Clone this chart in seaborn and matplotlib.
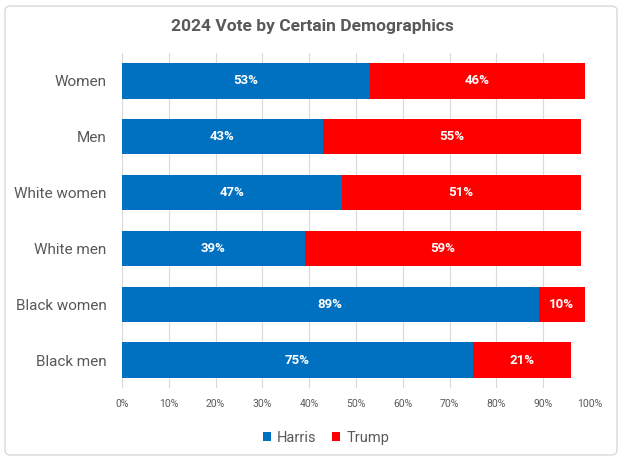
import matplotlib
matplotlib.use("Agg")
import matplotlib.pyplot as plt
import seaborn as sns
import pandas as pd
import numpy as np
from matplotlib.patches import FancyBboxPatch

categories = ["Women", "Men", "White women", "White men", "Black women", "Black men"]
harris = [53, 43, 47, 39, 89, 75]
trump = [46, 55, 51, 59, 10, 21]
series = ["Harris", "Trump"]
colors = ["#0070C0", "#FF0000"]
tick_labels = ["0%", "10%", "20%", "30%", "40%", "50%", "60%", "70%", "80%", "90%", "100%"]

sns.set_theme(style="white")
fam = ["Roboto", "DejaVu Sans"]
plt.rcParams['font.family'] = fam

fig = plt.figure(figsize=(6.24, 4.61), dpi=100)
ax = fig.add_axes([122/624, 1 - 388/461, (590-122)/624, (388-53)/461])

df = pd.DataFrame({"cat": categories, "Harris": harris, "Trump": trump})
df["Total"] = df["Harris"] + df["Trump"]

sns.barplot(data=df, y="cat", x="Total", color=colors[1], width=0.63, ax=ax, orient="h",
            saturation=1, label="Trump", linewidth=0)
sns.barplot(data=df, y="cat", x="Harris", color=colors[0], width=0.63, ax=ax, orient="h",
            saturation=1, label="Harris", linewidth=0)

bars = ax.patches
n = len(categories)
harris_bars = bars[n:]
for i in range(n):
    hb = harris_bars[i]
    cy = hb.get_y() + hb.get_height() / 2
    ax.text(harris[i] / 2, cy, f"{harris[i]}%", ha="center", va="center",
            color="white", fontweight="bold", fontsize=9.5)
    ax.text(harris[i] + trump[i] / 2, cy, f"{trump[i]}%", ha="center", va="center",
            color="white", fontweight="bold", fontsize=9.5)

ax.set_xlim(0, 100)
ax.set_xticks(np.arange(0, 101, 10))
ax.set_xticklabels(tick_labels, fontsize=7.5, color="#595959")
ax.tick_params(axis="y", labelsize=11, labelcolor="#595959", length=0, pad=11)
ax.tick_params(axis="x", length=0, pad=8)
ax.set_xlabel("")
ax.set_ylabel("")
ax.grid(axis="x", color="#D9D9D9", linewidth=0.8)
ax.set_axisbelow(True)
for s in ax.spines.values():
    s.set_visible(False)

handles, labels = ax.get_legend_handles_labels()
if ax.legend_ is not None:
    ax.legend_.remove()
hmap = dict(zip(labels, handles))
leg = fig.legend([hmap["Harris"], hmap["Trump"]], ["Harris", "Trump"], loc="center",
                 bbox_to_anchor=(326/624, 1 - 438/461), ncol=2, frameon=False,
                 fontsize=10.5, handlelength=0.55, handleheight=0.55, handletextpad=0.4,
                 columnspacing=1.1)
for t in leg.get_texts():
    t.set_color("#595959")

fig.text(0.5, 1 - 27/461, "2024 Vote by Certain Demographics", ha="center", va="center",
         fontsize=12.5, fontweight="bold", color="#595959")

border = FancyBboxPatch((5/624, 6/461), 612/624, 449/461, boxstyle="round,pad=0,rounding_size=0.01",
                        transform=fig.transFigure, fill=False, edgecolor="#D9D9D9", linewidth=1)
fig.patches.append(border)

fig.savefig("out.png", dpi=100)
